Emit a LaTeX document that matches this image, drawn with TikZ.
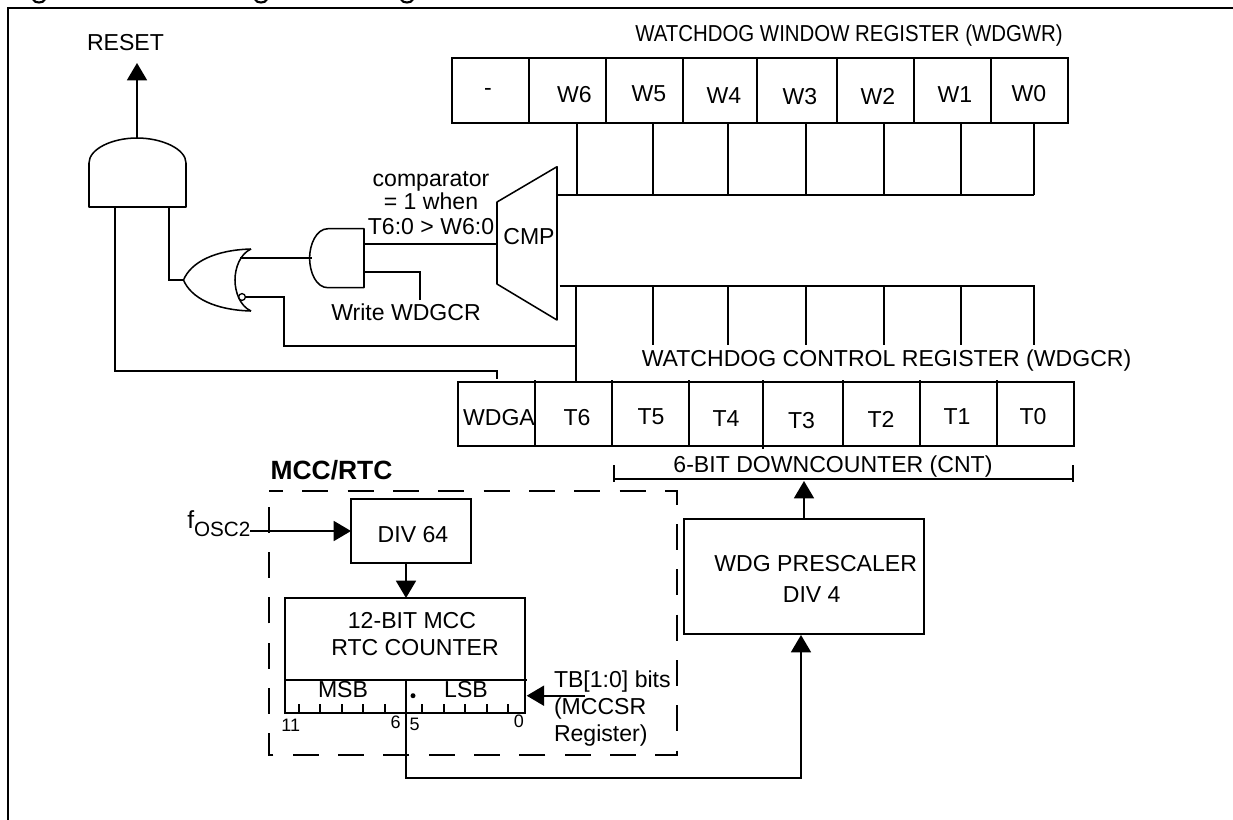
\documentclass[tikz,border=0pt]{standalone}
\usepackage{fontspec}
\setmainfont{Liberation Sans}
\usetikzlibrary{arrows.meta,calc}
\newcommand{\pxbox}[5]{\node[boxn,anchor=north west,minimum width={((#4)-(#2))*0.75pt},minimum height={((#5)-(#3))*0.75pt}] (#1) at (#2,#3) {};}
\tikzset{
  wire/.style={line width=1.35pt,line join=miter},
  thin gate/.style={line width=1.15pt,line join=round},
  boxn/.style={draw,line width=1.35pt,inner sep=0pt,outer sep=0pt},
  txt/.style={inner sep=0pt,outer sep=0pt,font=\fontsize{17.3}{20}\selectfont},
  small txt/.style={inner sep=0pt,outer sep=0pt,font=\fontsize{13.5}{15}\selectfont},
  head/.style={-{Triangle[length=13pt,width=15pt]}}
}
\begin{document}
\begin{tikzpicture}[x=0.75pt,y=-0.75pt]
\useasboundingbox (0,0) rectangle (1233,819);
% frame and the cut-off descenders of the title above it
\draw[line width=1.5pt] (1240,8) -- (8,8) -- (8,825);
\foreach \gx in {39,261,407}
  \draw[line width=1.6pt] (\gx-6,-0.5) .. controls (\gx-4,3.5) and (\gx+4,3.5) .. (\gx+6,-0.5);

% ---------- window register
\pxbox{wreg}{452}{58}{1068}{122.7}
\foreach \x in {529,606,683,757,837,914,991}
  \draw[wire] (\x,58) -- (\x,122.7);
\node[txt] (wtitle) at (849,36) {\scalebox{0.885}[1]{WATCHDOG WINDOW REGISTER (WDGWR)}};
\node[txt] (wdash) at (488,92) {-};
\node[txt] (w6) at (574.5,95) {W6};
\node[txt] (w5) at (649,94) {W5};
\node[txt] (w4) at (724,96) {W4};
\node[txt] (w3) at (800,97) {W3};
\node[txt] (w2) at (878,96) {W2};
\node[txt] (w1) at (955,95) {W1};
\node[txt] (w0) at (1029,94) {W0};

% ---------- comparator
\coordinate (cmpTL) at (497,202);
\coordinate (cmpBL) at (497,284);
\coordinate (cmpTR) at (557,166.7);
\coordinate (cmpBR) at (557,320);
\draw[thin gate] (cmpTL) -- (cmpTR) -- (cmpBR) -- (cmpBL) -- cycle;
\node[txt] (cmp) at (529,236.7) {CMP};
\coordinate (cmpout) at (497,243.7);
\coordinate (wbus) at (557,194.7);
\coordinate (wbusE) at (1034,194.7);
\coordinate (tbus) at (559.5,286);
\coordinate (tbusE) at (1035,286);
\draw[wire] (wbus) -- (wbusE);
\draw[wire] (tbus) -- (tbusE);
\foreach \x in {577,653,728,806,884,961,1034}
  \draw[wire] (\x,122.7) -- (\x,194.7);
\foreach \x in {653,728,806,884,961,1034}
  \draw[wire] (\x,286) -- (\x,344.5);

% ---------- control register
\pxbox{creg}{458}{381.7}{1074}{445.7}
\foreach \x in {535,612,689,763,843,920,997}
  \draw[wire] (\x,380) -- (\x,445.7);
\draw[wire] (763,445.7) -- (763,449);
\node[txt] (ctitle) at (886.5,360.7) {WATCHDOG CONTROL REGISTER (WDGCR)};
\node[txt] (wdga) at (499,418) {WDGA};
\node[txt] (t6) at (577,418) {T6};
\node[txt] (t5) at (651,417) {T5};
\node[txt] (t4) at (726,419) {T4};
\node[txt] (t3) at (801.6,421) {T3};
\node[txt] (t2) at (881,419) {T2};
\node[txt] (t1) at (957,417) {T1};
\node[txt] (t0) at (1033,417) {T0};

% ---------- downcounter bracket
\node[txt] (cnt) at (833,467) {6-BIT DOWNCOUNTER (CNT)};
\coordinate (brL) at (614,478.7);
\coordinate (brR) at (1073,478.7);
\draw[wire] (brL) -- (brR);
\draw[wire] (614,465) -- (614,482);
\draw[wire] (1073,465) -- (1073,482);

% ---------- gates
\draw[thin gate] (89,207) -- (89,163) .. controls (89,149) and (112,138) .. (137,138)
  .. controls (162,138) and (186,149) .. (186,163) -- (186,207) -- cycle;
\coordinate (and1top) at (137,138);
\draw[thin gate] (251,249) .. controls (215,250) and (191,262) .. (183.5,280)
  .. controls (191,298) and (215,310) .. (251,311);
\draw[thin gate] (251,249) .. controls (240,254) and (235,268) .. (235,280)
  .. controls (235,292) and (240,306) .. (251,311);
\draw[thin gate] (364,228.7) -- (328,228.7) .. controls (316,228.7) and (309.6,245) .. (309.6,258)
  .. controls (309.6,272) and (316,287.7) .. (328,287.7) -- (364,287.7) -- cycle;
\draw[line width=1pt] (242,297) circle (3.4);
\coordinate (nor) at (183.5,280);
\coordinate (reset) at (137,63);
\node[txt] (resettxt) at (125.5,43) {RESET};
\draw[wire,head] (and1top) -- (reset);
\draw[wire] (115,207) -- (115,371) -- (497,371) -- (497,379);
\draw[wire] (169,207) -- (169,280) -- (nor);
\draw[wire] (240,257.7) -- (312,257.7);
\draw[wire] (245,297) -- (284,297) -- (284,346) -- (576,346);
\draw[wire] (576,286) -- (576,381.7);
\draw[wire] (364,243.7) -- (cmpout);
\draw[wire] (364,271.7) -- (420,271.7) -- (420,300);
\node[txt,align=center] (cmptxt) at (431,203) {comparator\\[-2.7pt]= 1 when\\[-1.5pt]T6:0 > W6:0};
\node[txt] (writetxt) at (406,312.7) {Write WDGCR};

% ---------- MCC/RTC
\draw[line width=1.35pt,dash pattern=on 19.5pt off 14.5pt,dash phase=9pt] (269,490.7) -- (677,490.7) -- (677,755) -- (269,755) -- cycle;
\node[inner sep=0pt,font=\fontsize{19.8}{22}\bfseries\selectfont] (mcc) at (331.5,470) {MCC/RTC};
\pxbox{div}{351}{499}{471}{563}
\node[txt] (divtxt) at (413,535) {DIV 64};
\node[inner sep=0pt,anchor=base west] (fosc) at (187,528) {\fontsize{18.5}{20}\selectfont f\raisebox{-6pt}{\fontsize{15.5}{18}\selectfont OSC2}};
\coordinate (foscE) at (250,531);
\draw[wire,head] (foscE) -- (351,531);
\pxbox{mccbox}{285}{598}{525}{712.7}
\draw[wire,head] (406,563) -- (406,598);
\draw[wire] (285,680) -- (527,680);
\node[txt,align=center] (rtc) at (415,634) {12-BIT MCC\hspace*{4.5pt}\\[-0.3pt]RTC COUNTER};
\node[txt] (msb) at (343,690) {MSB};
\node[txt] (lsb) at (466,690) {LSB};
\fill (413,695.7) circle (2.5);
\foreach \t in {299,320,342,363,385,422,444,465,487,508}
  \draw[line width=1pt] (\t,704) -- (\t,712.7);
\node[small txt] (n11) at (290.7,725) {11};
\node[small txt] (n6) at (395.7,722.7) {6};
\node[small txt] (n5) at (414.7,724) {5};
\node[small txt] (n0) at (519,721) {0};
\node[txt,align=left,anchor=north west] (tb) at (554,671) {TB[1:0] bits\\[0.25pt](MCCSR\\[0.25pt]Register)};
\draw[wire,head] (585,695.7) -- (526.7,695.7);

% ---------- prescaler
\pxbox{wdg}{684}{519}{924}{634}
\node[txt,align=center] (wdgtxt) at (815.7,578.5) {WDG PRESCALER\\[3.25pt]DIV 4\hspace*{6pt}};
\draw[wire,head] (804,519) -- (804,481);
\draw[wire,head] (406,680) -- (406,777.7) -- (801,777.7) -- (801,635);
\end{tikzpicture}
\end{document}
